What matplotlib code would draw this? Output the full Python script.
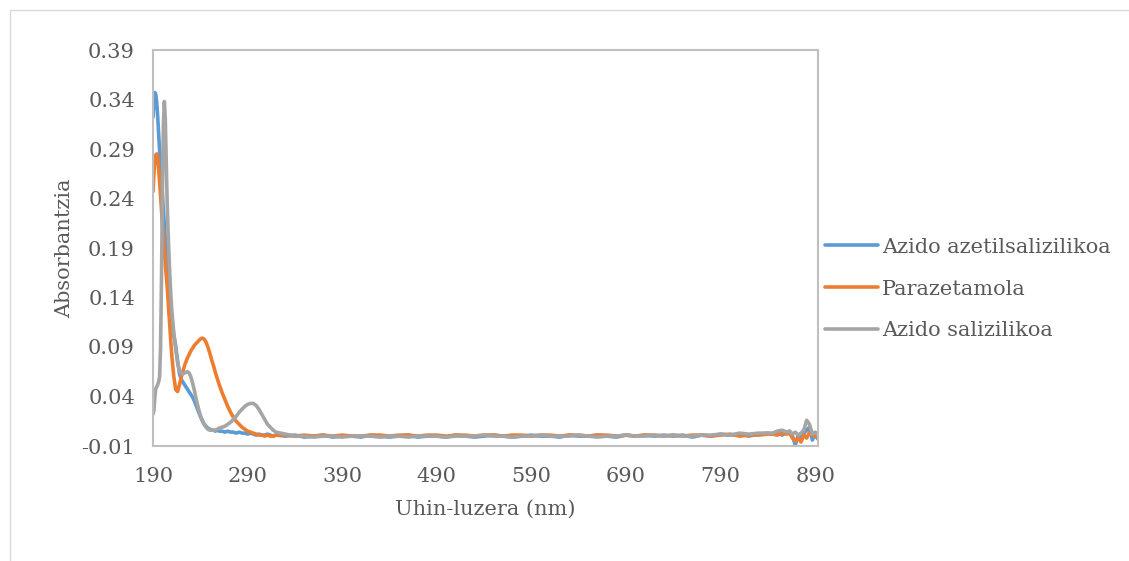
import matplotlib
matplotlib.use("Agg")
import matplotlib.pyplot as plt
from matplotlib.patches import Rectangle

plt.rcParams["font.family"] = ["DejaVu Serif"]
TXT = "#595959"

# uhin-luzera (nm)
wavelength = [
    190, 191, 192, 193, 194, 195, 196, 197, 198, 199, 200, 201, 202, 203, 204, 205, 206, 207, 208, 209, 210,
    212, 214, 216, 218, 220, 222, 224, 226, 228, 230, 232, 234, 236, 238, 240, 242, 244, 246, 248, 250,
    252, 254, 256, 258, 260,
    263, 266, 269, 272, 275, 278, 281, 284, 287, 290, 293, 296, 299, 302, 305, 308, 311, 314, 317, 320,
    330, 340, 350, 360, 370, 380, 390, 400, 410, 420, 430, 440, 450,
    460, 470, 480, 490, 500, 510, 520, 530, 540, 550, 560, 570, 580,
    590, 600, 610, 620, 630, 640, 650, 660, 670, 680, 690, 700, 710,
    720, 730, 740, 750, 760, 770, 780, 790, 800, 810, 820, 830, 840,
    845, 850, 855, 860,
    863, 866, 869, 872, 875, 878, 881, 884, 887, 890, 893,
]

azetilsalizilikoa = [
    0.322, 0.340, 0.347, 0.345, 0.336, 0.322, 0.305, 0.288, 0.273, 0.259, 0.243, 0.228, 0.213, 0.199, 0.185,
    0.171, 0.158, 0.146, 0.135, 0.125, 0.116,
    0.102, 0.091, 0.076, 0.063, 0.057, 0.054, 0.051, 0.048, 0.045, 0.042, 0.039, 0.035, 0.030, 0.025, 0.020,
    0.016, 0.012, 0.010, 0.008, 0.007, 0.006, 0.006, 0.005, 0.006, 0.005,
    0.005, 0.004, 0.005, 0.004, 0.004, 0.003, 0.004, 0.003, 0.003, 0.002, 0.003, 0.002, 0.001, 0.002, 0.001,
    0.001, 0.002, 0.001, 0.000, 0.001,
    0.000, 0.001, -0.001, 0.000, 0.001, -0.001, 0.000, 0.000, -0.001, 0.001, 0.000, -0.001, 0.000,
    0.001, -0.001, 0.000, 0.000, -0.001, 0.001, 0.000, -0.001, 0.000, 0.001, 0.000, -0.001, 0.000,
    0.001, 0.000, 0.000, -0.001, 0.001, 0.000, 0.000, 0.001, 0.000, -0.001, 0.001, 0.000, 0.001,
    0.000, 0.001, 0.000, 0.001, -0.001, 0.001, 0.000, 0.002, 0.001, 0.002, 0.000, 0.002, 0.003,
    0.002, 0.004, 0.001, 0.004,
    0.005, 0.000, -0.009, 0.001, -0.004, 0.003, 0.006, 0.009, -0.004, 0.002, -0.003,
]

parazetamola = [
    0.247, 0.266, 0.279, 0.284, 0.285, 0.280, 0.270, 0.257, 0.243, 0.228, 0.213, 0.199, 0.186, 0.174, 0.163,
    0.151, 0.137, 0.122, 0.107, 0.093, 0.080,
    0.060, 0.047, 0.045, 0.052, 0.060, 0.067, 0.073, 0.078, 0.082, 0.086, 0.089, 0.092, 0.094, 0.096, 0.098,
    0.099, 0.098, 0.095, 0.090, 0.084, 0.077, 0.071, 0.064, 0.058, 0.052,
    0.044, 0.037, 0.030, 0.024, 0.019, 0.015, 0.012, 0.009, 0.007, 0.005, 0.004, 0.003, 0.002, 0.001, 0.001,
    0.000, 0.001, 0.000, 0.000, 0.001,
    0.001, 0.000, 0.001, 0.000, 0.001, 0.000, 0.001, 0.000, 0.000, 0.001, 0.001, 0.000, 0.001,
    0.001, 0.000, 0.001, 0.001, 0.000, 0.001, 0.001, 0.000, 0.001, 0.001, 0.000, 0.001, 0.001,
    0.000, 0.001, 0.001, 0.000, 0.001, 0.001, 0.000, 0.001, 0.001, 0.000, 0.001, 0.000, 0.001,
    0.001, 0.000, 0.001, 0.000, 0.001, 0.001, 0.000, 0.001, 0.002, 0.000, 0.001, 0.001, 0.002,
    0.002, 0.001, 0.003, 0.002,
    0.003, -0.002, -0.005, -0.002, -0.006, 0.001, -0.002, 0.004, 0.001, 0.000, -0.002,
]

salizilikoa = [
    0.022, 0.026, 0.040, 0.048, 0.050, 0.052, 0.055, 0.060, 0.090, 0.160, 0.250, 0.315, 0.338, 0.320, 0.275,
    0.235, 0.205, 0.180, 0.158, 0.140, 0.125,
    0.104, 0.088, 0.074, 0.066, 0.063, 0.063, 0.064, 0.065, 0.064, 0.060, 0.053, 0.045, 0.036, 0.028, 0.021,
    0.016, 0.012, 0.009, 0.007, 0.006, 0.006, 0.006, 0.006, 0.007, 0.008,
    0.009, 0.010, 0.012, 0.014, 0.017, 0.020, 0.024, 0.027, 0.030, 0.032, 0.033, 0.033, 0.031, 0.027, 0.022,
    0.017, 0.012, 0.009, 0.006, 0.004,
    0.002, 0.000, 0.000, -0.001, 0.000, 0.000, -0.001, 0.000, 0.000, 0.000, -0.001, 0.000, 0.000,
    -0.001, 0.000, 0.000, 0.000, -0.001, 0.000, 0.000, 0.000, 0.001, 0.000, 0.000, -0.001, 0.000,
    0.000, 0.001, 0.000, 0.000, 0.000, 0.001, 0.000, -0.001, 0.000, 0.000, 0.001, 0.000, 0.000,
    0.001, 0.000, 0.001, 0.000, 0.000, 0.001, 0.001, 0.002, 0.001, 0.003, 0.002, 0.003, 0.003,
    0.003, 0.005, 0.006, 0.004,
    0.005, 0.002, 0.004, 0.001, 0.003, 0.006, 0.016, 0.012, 0.002, 0.004, 0.001,
]

series = [
    ("Azido azetilsalizilikoa", azetilsalizilikoa, "#5B9BD5"),
    ("Parazetamola", parazetamola, "#ED7D31"),
    ("Azido salizilikoa", salizilikoa, "#A5A5A5"),
]

y_ticks = [-0.01, 0.04, 0.09, 0.14, 0.19, 0.24, 0.29, 0.34, 0.39]
x_ticks = [190, 290, 390, 490, 590, 690, 790, 890]

fig = plt.figure(figsize=(11.29, 5.61), dpi=100)
fig.patch.set_facecolor("white")
# kanpoko marko arina
fig.patches.append(Rectangle((10 / 1129, -0.1), 1.2, 1.1 - 10 / 561, transform=fig.transFigure,
                             fill=False, edgecolor="#D9D9D9", linewidth=1.0))

ax = fig.add_axes([153 / 1129, 1 - 446 / 561, (818 - 153) / 1129, (446 - 50) / 561])
for name, vals, col in series:
    ax.plot(wavelength, vals, color=col, linewidth=2.6, label=name, solid_capstyle="round")

ax.set_xlim(190, 893)
ax.set_ylim(-0.01, 0.39)
ax.set_xticks(x_ticks)
ax.set_yticks(y_ticks)
ax.set_yticklabels([f"{v:.2f}" for v in y_ticks])
ax.tick_params(length=0, labelsize=15, colors=TXT)
ax.tick_params(axis="y", pad=13)
ax.tick_params(axis="x", pad=15)
for s in ax.spines.values():
    s.set_color("#BFBFBF")
    s.set_linewidth(1.5)

ax.set_xlabel("Uhin-luzera (nm)", fontsize=15, color=TXT, labelpad=10)
ax.set_ylabel("Absorbantzia", fontsize=15, color=TXT, labelpad=5)

fig.legend(loc="center left", bbox_to_anchor=(825 / 1129, 1 - 289 / 561), frameon=False,
           fontsize=15, labelcolor=TXT, handlelength=2.55, handletextpad=0.2,
           labelspacing=1.1, borderpad=0, borderaxespad=0)

plt.savefig("out.png", dpi=100, facecolor="white")
plt.close()
